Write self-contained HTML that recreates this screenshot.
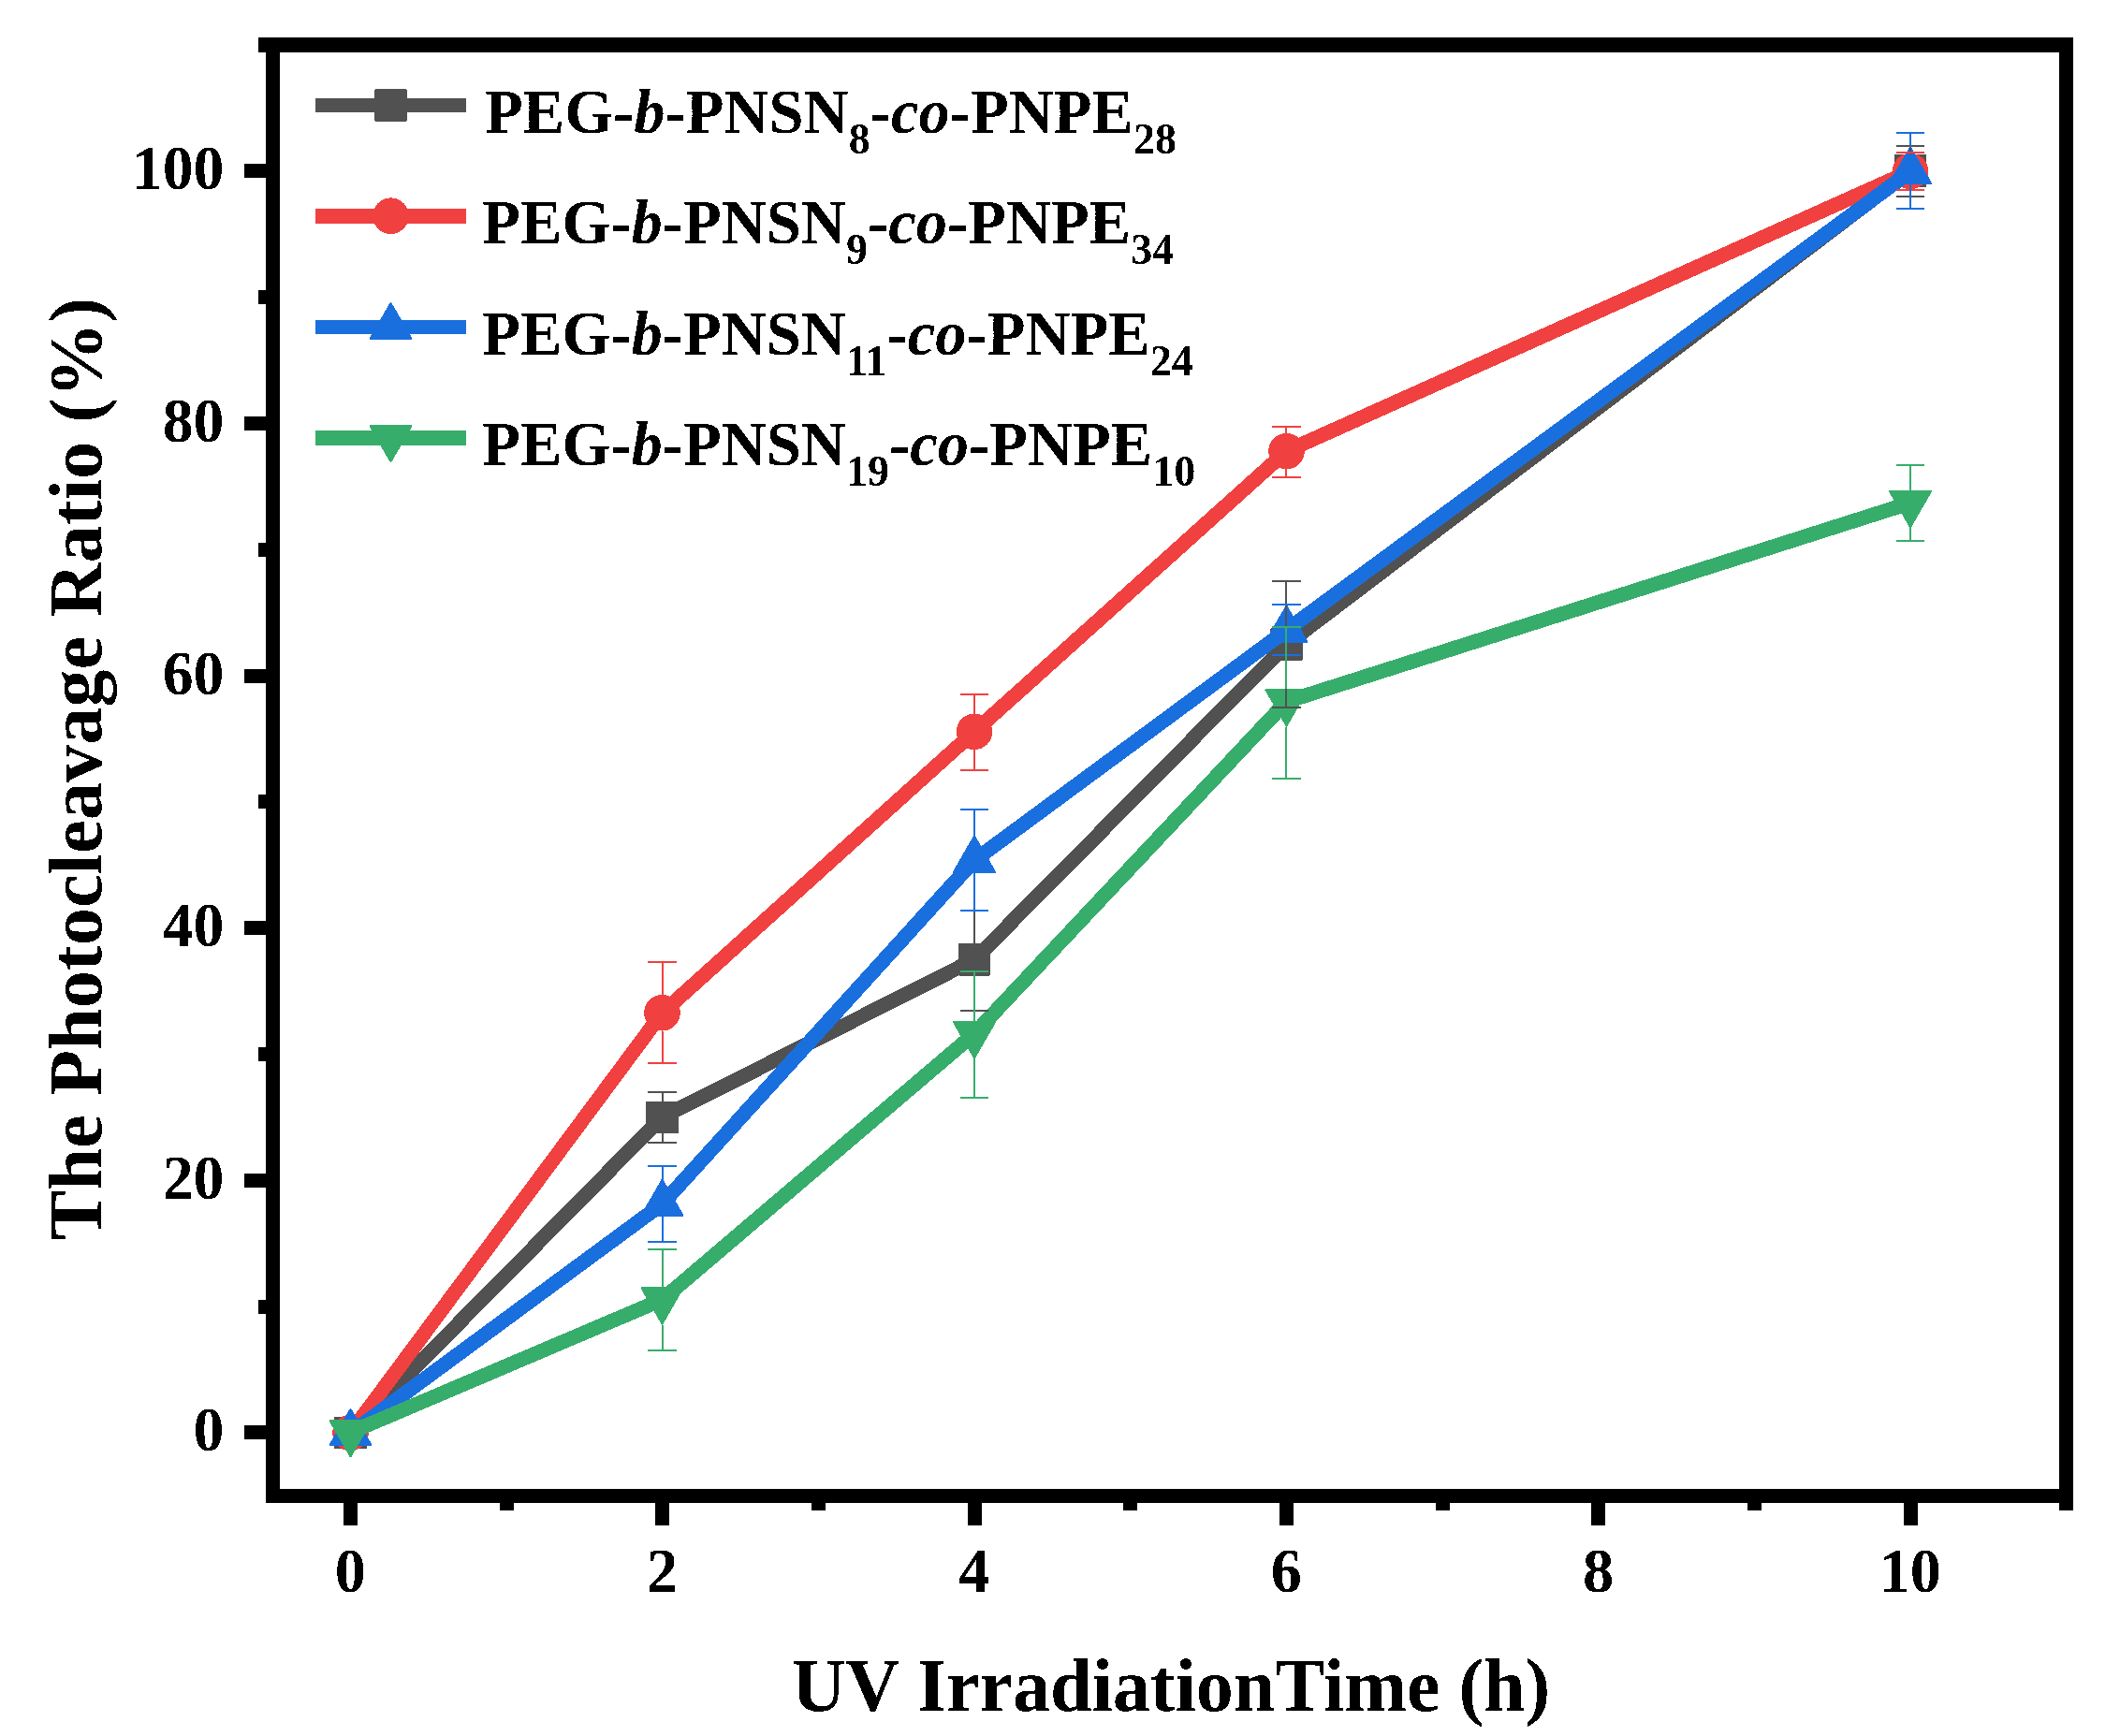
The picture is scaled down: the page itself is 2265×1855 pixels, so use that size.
<!DOCTYPE html>
<html lang="en">
<head>
<meta charset="utf-8">
<title>The Photocleavage Ratio vs UV Irradiation Time</title>
<style>
html,body{margin:0;padding:0;background:#fff}
body{width:2265px;height:1855px;overflow:hidden}
svg{display:block}
text{font-family:"Liberation Serif",serif;font-weight:bold;fill:#000}
.t{font-size:68px}
.a{font-size:80px}
.i{font-style:italic}
.s{font-size:47px}
</style>
</head>
<body>
<svg width="2265" height="1855" viewBox="0 0 2265 1855">
<rect width="2265" height="1855" fill="#fff"/>
<defs><filter id="bi" x="-2%" y="-10%" width="104%" height="120%" color-interpolation-filters="sRGB"><feComponentTransfer><feFuncA type="discrete" tableValues="0 1"/></feComponentTransfer></filter></defs>
<g shape-rendering="crispEdges">
<polyline points="374.5,1531.0 707.5,1193.8 1041.0,1025.4 1374.5,688.5 2041.0,182.5" fill="none" stroke="#515151" stroke-width="15.6" stroke-linejoin="round"/>
<rect x="358.3" y="1514.8" width="32.4" height="32.4" fill="#515151" stroke="#515151" stroke-width="2" stroke-linejoin="round"/>
<rect x="691.3" y="1177.6" width="32.4" height="32.4" fill="#515151" stroke="#515151" stroke-width="2" stroke-linejoin="round"/>
<rect x="1024.8" y="1009.2" width="32.4" height="32.4" fill="#515151" stroke="#515151" stroke-width="2" stroke-linejoin="round"/>
<rect x="1358.3" y="672.3" width="32.4" height="32.4" fill="#515151" stroke="#515151" stroke-width="2" stroke-linejoin="round"/>
<rect x="2024.8" y="166.3" width="32.4" height="32.4" fill="#515151" stroke="#515151" stroke-width="2" stroke-linejoin="round"/>
<polyline points="374.5,1531.0 707.5,1082.3 1041.0,781.8 1374.5,482.1 2041.0,183.0" fill="none" stroke="#F14040" stroke-width="15.6" stroke-linejoin="round"/>
<circle cx="374.5" cy="1531.0" r="19.3" fill="#F14040"/>
<circle cx="707.5" cy="1082.3" r="19.3" fill="#F14040"/>
<circle cx="1041.0" cy="781.8" r="19.3" fill="#F14040"/>
<circle cx="1374.5" cy="482.1" r="19.3" fill="#F14040"/>
<circle cx="2041.0" cy="183.0" r="19.3" fill="#F14040"/>
<polyline points="374.5,1531.7 707.5,1286.5 1041.0,919.3 1374.5,673.4 2041.0,183.4" fill="none" stroke="#1A6FDF" stroke-width="15.6" stroke-linejoin="round"/>
<polygon points="374.5,1505.9 396.5,1544.1 352.5,1544.1" fill="#1A6FDF" stroke="#1A6FDF" stroke-width="2" stroke-linejoin="round"/>
<polygon points="707.5,1260.7 729.5,1298.9 685.5,1298.9" fill="#1A6FDF" stroke="#1A6FDF" stroke-width="2" stroke-linejoin="round"/>
<polygon points="1041.0,893.5 1063.0,931.7 1019.0,931.7" fill="#1A6FDF" stroke="#1A6FDF" stroke-width="2" stroke-linejoin="round"/>
<polygon points="1374.5,647.6 1396.5,685.8 1352.5,685.8" fill="#1A6FDF" stroke="#1A6FDF" stroke-width="2" stroke-linejoin="round"/>
<polygon points="2041.0,157.6 2063.0,195.8 2019.0,195.8" fill="#1A6FDF" stroke="#1A6FDF" stroke-width="2" stroke-linejoin="round"/>
<polyline points="374.5,1530.5 707.5,1388.7 1041.0,1104.6 1374.5,749.7 2041.0,537.4" fill="none" stroke="#37AD6B" stroke-width="15.6" stroke-linejoin="round"/>
<polygon points="352.5,1518.1 396.5,1518.1 374.5,1556.3" fill="#37AD6B" stroke="#37AD6B" stroke-width="2" stroke-linejoin="round"/>
<polygon points="685.5,1376.3 729.5,1376.3 707.5,1414.5" fill="#37AD6B" stroke="#37AD6B" stroke-width="2" stroke-linejoin="round"/>
<polygon points="1019.0,1092.2 1063.0,1092.2 1041.0,1130.4" fill="#37AD6B" stroke="#37AD6B" stroke-width="2" stroke-linejoin="round"/>
<polygon points="1352.5,737.3 1396.5,737.3 1374.5,775.5" fill="#37AD6B" stroke="#37AD6B" stroke-width="2" stroke-linejoin="round"/>
<polygon points="2019.0,525.0 2063.0,525.0 2041.0,563.2" fill="#37AD6B" stroke="#37AD6B" stroke-width="2" stroke-linejoin="round"/>
<rect x="692" y="1166" width="31" height="2" fill="#515151"/><rect x="692" y="1220" width="31" height="2" fill="#515151"/><rect x="707" y="1167" width="2" height="9.6" fill="#515151"/><rect x="707" y="1211.0" width="2" height="10.0" fill="#515151"/>
<rect x="1026" y="972" width="30" height="2" fill="#515151"/><rect x="1026" y="1079" width="30" height="2" fill="#515151"/><rect x="1040" y="973" width="2" height="35.2" fill="#515151"/><rect x="1040" y="1042.6" width="2" height="37.4" fill="#515151"/>
<rect x="1359" y="620" width="31" height="2" fill="#515151"/><rect x="1359" y="755" width="31" height="2" fill="#515151"/><rect x="1373" y="621" width="2" height="50.3" fill="#515151"/><rect x="1373" y="705.7" width="2" height="50.3" fill="#515151"/>
<rect x="2026" y="155" width="30" height="2" fill="#515151"/><rect x="2026" y="209" width="30" height="2" fill="#515151"/><rect x="2040" y="156" width="2" height="9.3" fill="#515151"/><rect x="2040" y="199.7" width="2" height="10.3" fill="#515151"/>
<rect x="692" y="1027" width="31" height="2" fill="#F14040"/><rect x="692" y="1135" width="31" height="2" fill="#F14040"/><rect x="707" y="1028" width="2" height="35.0" fill="#F14040"/><rect x="707" y="1101.6" width="2" height="34.4" fill="#F14040"/>
<rect x="1026" y="741" width="30" height="2" fill="#F14040"/><rect x="1026" y="822" width="30" height="2" fill="#F14040"/><rect x="1040" y="742" width="2" height="20.5" fill="#F14040"/><rect x="1040" y="801.1" width="2" height="21.9" fill="#F14040"/>
<rect x="1359" y="455" width="31" height="2" fill="#F14040"/><rect x="1359" y="509" width="31" height="2" fill="#F14040"/><rect x="1373" y="456" width="2" height="6.8" fill="#F14040"/><rect x="1373" y="501.4" width="2" height="8.6" fill="#F14040"/>
<rect x="2026" y="162" width="30" height="2" fill="#F14040"/><rect x="2026" y="202" width="30" height="2" fill="#F14040"/><rect x="2040" y="163" width="2" height="0.7" fill="#F14040"/><rect x="2040" y="202.3" width="2" height="0.7" fill="#F14040"/>
<rect x="692" y="1245" width="31" height="2" fill="#1A6FDF"/><rect x="692" y="1326" width="31" height="2" fill="#1A6FDF"/><rect x="707" y="1246" width="2" height="13.7" fill="#1A6FDF"/><rect x="707" y="1299.9" width="2" height="27.1" fill="#1A6FDF"/>
<rect x="1026" y="864" width="30" height="2" fill="#1A6FDF"/><rect x="1026" y="972" width="30" height="2" fill="#1A6FDF"/><rect x="1040" y="865" width="2" height="27.5" fill="#1A6FDF"/><rect x="1040" y="932.7" width="2" height="40.3" fill="#1A6FDF"/>
<rect x="1359" y="645" width="31" height="2" fill="#1A6FDF"/><rect x="1359" y="699" width="31" height="2" fill="#1A6FDF"/><rect x="1373" y="646" width="2" height="0.6" fill="#1A6FDF"/><rect x="1373" y="686.8" width="2" height="13.2" fill="#1A6FDF"/>
<rect x="2026" y="141" width="30" height="2" fill="#1A6FDF"/><rect x="2026" y="222" width="30" height="2" fill="#1A6FDF"/><rect x="2040" y="142" width="2" height="14.6" fill="#1A6FDF"/><rect x="2040" y="196.8" width="2" height="26.2" fill="#1A6FDF"/>
<rect x="692" y="1334" width="31" height="2" fill="#37AD6B"/><rect x="692" y="1442" width="31" height="2" fill="#37AD6B"/><rect x="707" y="1335" width="2" height="40.3" fill="#37AD6B"/><rect x="707" y="1415.5" width="2" height="27.5" fill="#37AD6B"/>
<rect x="1026" y="1037" width="30" height="2" fill="#37AD6B"/><rect x="1026" y="1172" width="30" height="2" fill="#37AD6B"/><rect x="1040" y="1038" width="2" height="53.2" fill="#37AD6B"/><rect x="1040" y="1131.4" width="2" height="41.6" fill="#37AD6B"/>
<rect x="1359" y="669" width="31" height="2" fill="#37AD6B"/><rect x="1359" y="831" width="31" height="2" fill="#37AD6B"/><rect x="1373" y="670" width="2" height="66.3" fill="#37AD6B"/><rect x="1373" y="776.5" width="2" height="55.5" fill="#37AD6B"/>
<rect x="2026" y="496" width="30" height="2" fill="#37AD6B"/><rect x="2026" y="577" width="30" height="2" fill="#37AD6B"/><rect x="2040" y="497" width="2" height="27.0" fill="#37AD6B"/><rect x="2040" y="564.2" width="2" height="13.8" fill="#37AD6B"/>
<rect x="276" y="40" width="1939" height="16" fill="#000"/>
<rect x="284" y="40" width="15" height="1566" fill="#000"/>
<rect x="2200" y="40" width="15" height="1574" fill="#000"/>
<rect x="284" y="1591" width="1931" height="15" fill="#000"/>
<rect x="367" y="1600" width="15" height="30" fill="#000"/><rect x="534" y="1600" width="15" height="14" fill="#000"/><rect x="700" y="1600" width="15" height="30" fill="#000"/><rect x="867" y="1600" width="15" height="14" fill="#000"/><rect x="1034" y="1600" width="15" height="30" fill="#000"/><rect x="1200" y="1600" width="15" height="14" fill="#000"/><rect x="1367" y="1600" width="15" height="30" fill="#000"/><rect x="1534" y="1600" width="15" height="14" fill="#000"/><rect x="1700" y="1600" width="15" height="30" fill="#000"/><rect x="1867" y="1600" width="15" height="14" fill="#000"/><rect x="2034" y="1600" width="15" height="30" fill="#000"/>
<rect x="261" y="1523" width="30" height="15" fill="#000"/><rect x="276" y="1389" width="15" height="15" fill="#000"/><rect x="261" y="1254" width="30" height="15" fill="#000"/><rect x="276" y="1119" width="15" height="15" fill="#000"/><rect x="261" y="984" width="30" height="15" fill="#000"/><rect x="276" y="849" width="15" height="15" fill="#000"/><rect x="261" y="715" width="30" height="15" fill="#000"/><rect x="276" y="580" width="15" height="15" fill="#000"/><rect x="261" y="445" width="30" height="15" fill="#000"/><rect x="276" y="310" width="15" height="15" fill="#000"/><rect x="261" y="175" width="30" height="15" fill="#000"/>
</g>
<g filter="url(#bi)">
<text class="t" transform="translate(374.3,1701.3) scale(0.975,1)" text-anchor="middle">0</text><text class="t" transform="translate(707.6,1701.3) scale(0.975,1)" text-anchor="middle">2</text><text class="t" transform="translate(1040.9,1701.3) scale(0.975,1)" text-anchor="middle">4</text><text class="t" transform="translate(1374.2,1701.3) scale(0.975,1)" text-anchor="middle">6</text><text class="t" transform="translate(1707.5,1701.3) scale(0.975,1)" text-anchor="middle">8</text><text class="t" transform="translate(2040.8,1701.3) scale(0.975,1)" text-anchor="middle">10</text>
<text class="t" transform="translate(239.3,1550.0) scale(0.965,1)" text-anchor="end">0</text><text class="t" transform="translate(239.3,1281.0) scale(0.965,1)" text-anchor="end">20</text><text class="t" transform="translate(239.3,1011.0) scale(0.965,1)" text-anchor="end">40</text><text class="t" transform="translate(239.3,742.0) scale(0.965,1)" text-anchor="end">60</text><text class="t" transform="translate(239.3,472.0) scale(0.965,1)" text-anchor="end">80</text><text class="t" transform="translate(239.3,202.0) scale(0.965,1)" text-anchor="end">100</text>
<text class="a" x="1251" y="1828.4" text-anchor="middle">UV IrradiationTime (h)</text>
<text class="a" transform="translate(108,1325.2) rotate(-90)" style="letter-spacing:0.2px">The Photocleavage Ratio (%)</text>
</g>
<g shape-rendering="crispEdges">
<rect x="337" y="105" width="161" height="15" fill="#515151"/><rect x="401.3" y="96.2" width="32.4" height="32.4" fill="#515151" stroke="#515151" stroke-width="2" stroke-linejoin="round"/>
<rect x="337" y="223" width="161" height="16" fill="#F14040"/><circle cx="417.5" cy="230.7" r="19.3" fill="#F14040"/>
<rect x="337" y="342" width="161" height="15" fill="#1A6FDF"/><polygon points="417.5,324.0 439.5,362.2 395.5,362.2" fill="#1A6FDF" stroke="#1A6FDF" stroke-width="2" stroke-linejoin="round"/>
<rect x="337" y="460" width="161" height="16" fill="#37AD6B"/><polygon points="395.5,455.0 439.5,455.0 417.5,493.2" fill="#37AD6B" stroke="#37AD6B" stroke-width="2" stroke-linejoin="round"/>
</g>
<g filter="url(#bi)">
<text class="t" transform="translate(518,141.9) scale(0.98,1)">PEG-<tspan class="i">b</tspan>-PNSN<tspan class="s" dy="22">8</tspan><tspan dy="-22">-</tspan><tspan class="i">co</tspan>-PNPE<tspan class="s" dy="22">28</tspan></text>
<text class="t" transform="translate(515.3,260.1) scale(0.98,1)">PEG-<tspan class="i">b</tspan>-PNSN<tspan class="s" dy="22">9</tspan><tspan dy="-22">-</tspan><tspan class="i">co</tspan>-PNPE<tspan class="s" dy="22">34</tspan></text>
<text class="t" transform="translate(515.3,379) scale(0.98,1)">PEG-<tspan class="i">b</tspan>-PNSN<tspan class="s" dy="22">11</tspan><tspan dy="-22">-</tspan><tspan class="i">co</tspan>-PNPE<tspan class="s" dy="22">24</tspan></text>
<text class="t" transform="translate(515.3,496.9) scale(0.98,1)">PEG-<tspan class="i">b</tspan>-PNSN<tspan class="s" dy="22">19</tspan><tspan dy="-22">-</tspan><tspan class="i">co</tspan>-PNPE<tspan class="s" dy="22">10</tspan></text>
</g>
</svg>
</body>
</html>
